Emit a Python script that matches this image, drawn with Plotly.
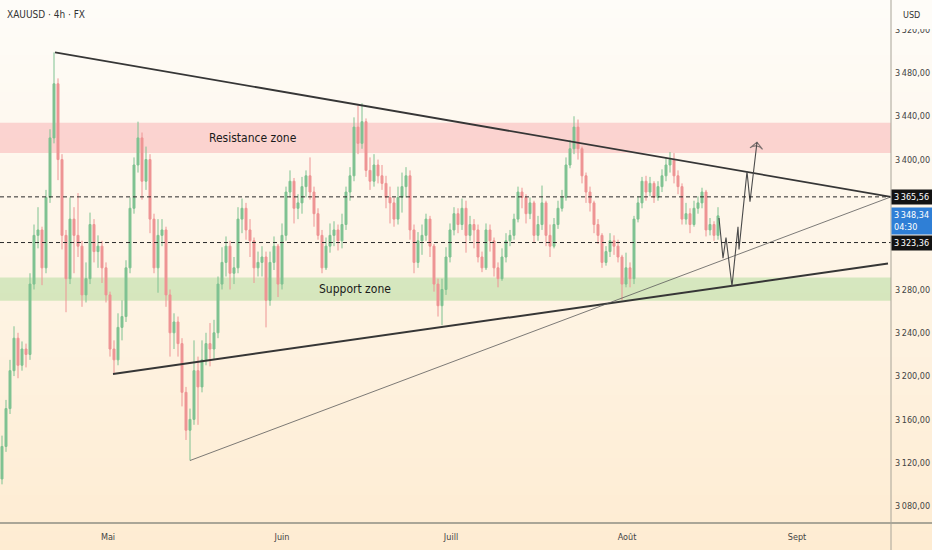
import plotly.graph_objects as go

# XAUUSD 4h (one candle here ~ 12h of the original)
close = [3135, 3170, 3205, 3235, 3210, 3225, 3220, 3285, 3330, 3335,
         3300, 3365, 3420, 3470, 3400, 3330, 3290, 3345, 3330, 3320,
         3275, 3290, 3340, 3315, 3320, 3300, 3275, 3225, 3215, 3245,
         3255, 3300, 3355, 3395, 3420, 3380, 3400, 3345, 3300, 3330,
         3335, 3275, 3240, 3250, 3230, 3185, 3150, 3160, 3205, 3190,
         3215, 3230, 3225, 3240, 3285, 3305, 3320, 3295, 3300, 3345,
         3355, 3335, 3325, 3300, 3305, 3310, 3270, 3305, 3320, 3285,
         3330, 3370, 3380, 3355, 3360, 3375, 3385, 3370, 3350, 3330,
         3300, 3320, 3330, 3335, 3325, 3340, 3370, 3385, 3430, 3415,
         3435, 3390, 3380, 3395, 3385, 3378, 3365, 3360, 3345, 3365,
         3375, 3385, 3335, 3305, 3325, 3330, 3345, 3320, 3285, 3265,
         3280, 3310, 3335, 3350, 3340, 3355, 3330, 3340, 3335, 3310,
         3300, 3335, 3325, 3300, 3290, 3310, 3325, 3330, 3345, 3370,
         3365, 3350, 3360, 3330, 3340, 3360, 3330, 3320, 3340, 3355,
         3365, 3395, 3410, 3430, 3410, 3385, 3370, 3360, 3340, 3330,
         3305, 3315, 3325, 3320, 3310, 3285, 3300, 3290, 3345, 3360,
         3380, 3370, 3378, 3365, 3375, 3385, 3395, 3400, 3385, 3375,
         3345, 3350, 3340, 3355, 3360, 3370, 3335, 3340, 3330, 3348]
high = [3145, 3178, 3215, 3246, 3240, 3232, 3230, 3295, 3340, 3356,
        3338, 3372, 3428, 3499, 3475, 3405, 3335, 3365, 3356, 3369,
        3325, 3305, 3351, 3345, 3330, 3325, 3305, 3278, 3233, 3258,
        3270, 3307, 3365, 3402, 3435, 3425, 3412, 3405, 3350, 3345,
        3345, 3338, 3280, 3258, 3255, 3235, 3190, 3170, 3233, 3218,
        3233, 3240, 3249, 3252, 3292, 3319, 3329, 3325, 3310, 3356,
        3364, 3360, 3345, 3328, 3315, 3320, 3315, 3315, 3329, 3322,
        3341, 3375, 3390, 3383, 3368, 3384, 3390, 3402, 3375, 3355,
        3335, 3328, 3341, 3343, 3340, 3350, 3375, 3393, 3439, 3450,
        3452, 3438, 3402, 3405, 3400, 3395, 3385, 3375, 3365, 3375,
        3388, 3393, 3390, 3340, 3333, 3340, 3350, 3348, 3322, 3290,
        3290, 3319, 3341, 3356, 3355, 3364, 3362, 3348, 3345, 3340,
        3315, 3341, 3340, 3328, 3305, 3318, 3332, 3335, 3350, 3375,
        3374, 3368, 3365, 3362, 3348, 3376, 3362, 3340, 3346, 3362,
        3372, 3402, 3418, 3440, 3437, 3412, 3388, 3375, 3362, 3345,
        3332, 3320, 3332, 3330, 3326, 3312, 3314, 3305, 3348, 3366,
        3384, 3385, 3384, 3380, 3380, 3391, 3402, 3407, 3406, 3390,
        3378, 3360, 3355, 3362, 3366, 3374, 3372, 3346, 3343, 3356]
low = [3100, 3130, 3165, 3200, 3198, 3205, 3208, 3215, 3280, 3318,
       3284, 3295, 3360, 3415, 3381, 3317, 3259, 3285, 3295, 3310,
       3264, 3268, 3285, 3305, 3300, 3286, 3268, 3218, 3202, 3210,
       3233, 3250, 3295, 3350, 3388, 3363, 3372, 3332, 3295, 3277,
       3320, 3264, 3218, 3225, 3218, 3172, 3141, 3122, 3155, 3155,
       3185, 3210, 3209, 3215, 3235, 3280, 3292, 3280, 3285, 3295,
       3332, 3326, 3310, 3286, 3292, 3292, 3245, 3265, 3298, 3273,
       3280, 3325, 3365, 3341, 3345, 3350, 3365, 3363, 3338, 3326,
       3295, 3298, 3314, 3320, 3316, 3318, 3335, 3362, 3380, 3405,
       3410, 3384, 3372, 3375, 3378, 3372, 3355, 3341, 3338, 3340,
       3351, 3365, 3326, 3295, 3300, 3312, 3325, 3310, 3278, 3255,
       3247, 3275, 3305, 3330, 3332, 3335, 3314, 3325, 3318, 3305,
       3296, 3298, 3315, 3292, 3282, 3288, 3305, 3320, 3326, 3342,
       3355, 3341, 3345, 3323, 3325, 3335, 3320, 3310, 3318, 3336,
       3352, 3362, 3392, 3405, 3400, 3378, 3360, 3352, 3332, 3322,
       3300, 3302, 3310, 3312, 3305, 3270, 3282, 3282, 3285, 3342,
       3355, 3362, 3366, 3360, 3362, 3370, 3380, 3388, 3378, 3368,
       3340, 3340, 3332, 3338, 3350, 3355, 3329, 3330, 3325, 3326]
first_open = 3105
open_ = [first_open] + close[:-1]
bars = list(range(len(close)))

month_pos = [26.5, 70, 112.25, 156.25, 198.75]
month_labels = ['Mai', 'Juin', 'Juill', 'Août', 'Sept']
# 3320 / 3360 sit under the price labels on the reference
price_ticks = [3080, 3120, 3160, 3200, 3240, 3280, 3400, 3440, 3480, 3520]

resistance_zone = [3406, 3434]
support_zone = [3269.5, 3291]
level_hi = 3365.56
level_lo = 3323.36
last_price = 3348.34
countdown = '04:30'

# drawings (bar index, price)
upper_line_x = [13.25, 222.25]
upper_line_y = [3499, 3365.56]
lower_line_x = [27.75, 221.5]
lower_line_y = [3202, 3304]
thin_line_x = [47, 222.25]
thin_line_y = [3122, 3365.56]
path_x = [179.25, 180.25, 181, 182.5, 184, 184.25, 186.25, 187, 188.75]
path_y = [3346, 3309, 3328, 3283, 3338, 3317, 3389, 3361, 3416]

NARROW = 'Liberation Sans Narrow, DejaVu Sans Condensed, Arial Narrow, sans-serif'


def fr(v):
    return f'{v:,.2f}'.replace(',', '\u202f').replace('.', ',')


fig = go.Figure()

fig.add_trace(go.Candlestick(
    x=bars, open=open_, high=high, low=low, close=close,
    increasing=dict(line=dict(color='#7fc291', width=1), fillcolor='#7fc291'),
    decreasing=dict(line=dict(color='#ee9494', width=1), fillcolor='#ee9494'),
    hoverinfo='skip',
))

fig.add_trace(go.Scatter(x=upper_line_x, y=upper_line_y, mode='lines',
                         line=dict(color='#363636', width=1.8)))
fig.add_trace(go.Scatter(x=lower_line_x, y=lower_line_y, mode='lines',
                         line=dict(color='#363636', width=2)))
fig.add_trace(go.Scatter(x=thin_line_x, y=thin_line_y, mode='lines',
                         line=dict(color='#5a5a5a', width=0.8)))
fig.add_trace(go.Scatter(
    x=path_x, y=path_y, mode='lines+markers',
    line=dict(color='#4a4a4a', width=1.1),
    marker=dict(size=[0] * (len(path_x) - 1) + [9],
                symbol='arrow-wide-open', angleref='previous',
                color='#4a4a4a', line=dict(color='#4a4a4a', width=1.1)),
))

# background gradient (TradingView theme)
shapes = []
top = (254, 252, 248)
bot = (254, 236, 210)
n = 60
y_lo = -27 / 523
for k in range(n):
    t = k / (n - 1)
    c = tuple(int(round(bot[j] + (top[j] - bot[j]) * t)) for j in range(3))
    shapes.append(dict(type='rect', xref='paper', yref='paper', layer='below',
                       x0=0, x1=932 / 891,
                       y0=y_lo + (1 - y_lo) * k / n, y1=y_lo + (1 - y_lo) * (k + 1) / n + 0.002,
                       fillcolor='rgb(%d,%d,%d)' % c, line=dict(width=0)))

shapes.append(dict(type='rect', xref='paper', yref='y', layer='below',
                   x0=0, x1=1, y0=resistance_zone[0], y1=resistance_zone[1],
                   fillcolor='rgba(247,160,165,0.42)', line=dict(width=0)))
shapes.append(dict(type='rect', xref='paper', yref='y', layer='below',
                   x0=0, x1=1, y0=support_zone[0], y1=support_zone[1],
                   fillcolor='rgba(150,210,130,0.38)', line=dict(width=0)))

for lv in [level_hi, level_lo]:
    shapes.append(dict(type='line', xref='paper', yref='y', layer='above',
                       x0=0, x1=1, y0=lv, y1=lv,
                       line=dict(color='#2a2a2a', width=1, dash='4px,3px')))

# axis frame
shapes.append(dict(type='line', xref='paper', yref='paper', layer='above',
                   x0=0, x1=932 / 891, y0=0, y1=0,
                   line=dict(color='#aaa697', width=2)))
shapes.append(dict(type='line', xref='paper', yref='paper', layer='above',
                   x0=1, x1=1, y0=y_lo, y1=1,
                   line=dict(color='#a8a498', width=1)))
# header of the price scale hides the top of the 3520 label
shapes.append(dict(type='rect', xref='paper', yref='paper', layer='above',
                   x0=1.002, x1=932 / 891, y0=1 - 29 / 523, y1=1,
                   fillcolor='rgb(254,252,248)', line=dict(width=0)))

annotations = [
    dict(xref='paper', yref='paper', x=5 / 891, y=1 - 15 / 523, xanchor='left', yanchor='middle',
         text='XAUUSD · 4h · FX', showarrow=False,
         font=dict(family=NARROW, size=10, color='#333333')),
    dict(xref='paper', yref='paper', x=1 + 10 / 891, y=1 - 15 / 523, xanchor='left', yanchor='middle',
         text='USD', showarrow=False,
         font=dict(family=NARROW, size=9, color='#333333')),
    dict(x=62.75, y=sum(resistance_zone) / 2, text='Resistance zone', showarrow=False,
         font=dict(family=NARROW, size=12, color='#1a1a1a')),
    dict(x=88.25, y=sum(support_zone) / 2, text='Support zone', showarrow=False,
         font=dict(family=NARROW, size=12, color='#1a1a1a')),
    dict(xref='paper', yref='y', x=1, y=level_hi, xanchor='left', yanchor='middle',
         text=fr(level_hi), showarrow=False, bgcolor='#131313', borderpad=2,
         width=37, align='left', font=dict(family=NARROW, size=9, color='white')),
    dict(xref='paper', yref='y', x=1, y=last_price, xanchor='left', yanchor='middle',
         yshift=-5, text=fr(last_price) + '<br>' + countdown, showarrow=False,
         bgcolor='#2f7fd6', borderpad=2, width=37, align='left',
         font=dict(family=NARROW, size=9, color='white')),
    dict(xref='paper', yref='y', x=1, y=level_lo, xanchor='left', yanchor='middle',
         text=fr(level_lo), showarrow=False, bgcolor='#131313', borderpad=2,
         width=37, align='left', font=dict(family=NARROW, size=9, color='white')),
]

fig.update_layout(
    width=932, height=550,
    margin=dict(l=0, r=41, t=0, b=27),
    paper_bgcolor='rgb(254,236,210)',
    plot_bgcolor='rgba(0,0,0,0)',
    showlegend=False,
    shapes=shapes,
    annotations=annotations,
    xaxis=dict(
        range=[-0.5, 222.25],
        rangeslider=dict(visible=False),
        showgrid=False, zeroline=False, showline=False,
        tickmode='array', tickvals=month_pos, ticktext=month_labels,
        ticks='', ticklabelstandoff=7,
        tickfont=dict(family=NARROW, size=9, color='#444444'),
    ),
    yaxis=dict(
        side='right',
        range=[3064.3, 3547.4],
        showgrid=False, zeroline=False, showline=False,
        tickmode='array', tickvals=price_ticks, ticktext=[fr(v) for v in price_ticks],
        ticks='', ticklabelstandoff=3,
        tickfont=dict(family=NARROW, size=9, color='#444444'),
    ),
)

fig.write_html('out.html', config={'displayModeBar': False},
               post_script="document.body.style.margin='0';")
